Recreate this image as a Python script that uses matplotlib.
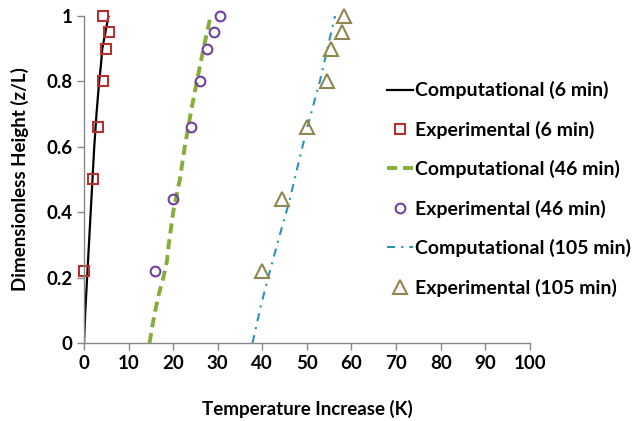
import matplotlib
matplotlib.use("Agg")
import matplotlib.pyplot as plt

plt.rcParams['font.family'] = ['Lato', 'DejaVu Sans']
plt.rcParams['font.weight'] = 'bold'

# Computational profiles (height vs temperature increase)
comp6_h = [0.0, 0.1, 0.2, 0.3, 0.4, 0.5, 0.6, 0.7, 0.8, 0.85, 0.9, 0.95, 1.0]
comp6_t = [0.0, 0.3, 0.7, 1.1, 1.5, 1.9, 2.3, 2.8, 3.4, 3.8, 4.1, 4.8, 5.5]

comp46_h = [0.0, 0.05, 0.1, 0.15, 0.2, 0.25, 0.3, 0.4, 0.5, 0.6, 0.7, 0.8, 0.9, 0.95, 1.0]
comp46_t = [14.7, 15.3, 16.0, 16.8, 17.8, 18.6, 19.0, 20.0, 21.5, 22.6, 23.9, 25.3, 26.8, 27.6, 28.4]

comp105_h = [0.0, 0.11, 0.2, 0.33, 0.43, 0.55, 0.65, 0.8, 0.9, 1.0]
comp105_t = [37.8, 39.6, 41.3, 43.9, 46.0, 48.1, 49.9, 52.9, 54.6, 56.3]

# Experimental points
exp6_h = [0.22, 0.5, 0.66, 0.8, 0.9, 0.95, 1.0]
exp6_t = [0.0, 2.0, 3.2, 4.3, 5.0, 5.5, 4.3]
exp46_h = [0.22, 0.44, 0.66, 0.8, 0.9, 0.95, 1.0]
exp46_t = [16.0, 19.9, 23.9, 26.1, 27.5, 29.2, 30.5]
exp105_h = [0.22, 0.44, 0.66, 0.8, 0.9, 0.95, 1.0]
exp105_t = [39.9, 44.5, 50.0, 54.5, 55.5, 57.8, 58.3]

x_ticks = [0, 10, 20, 30, 40, 50, 60, 70, 80, 90, 100]
y_ticks = [0, 0.2, 0.4, 0.6, 0.8, 1.0]
y_tick_labels = ['0', '0.2', '0.4', '0.6', '0.8', '1']

FS = 13.5

fig = plt.figure(figsize=(6.33, 4.21), dpi=100)
ax = fig.add_axes([0.1327, 0.1853, 0.7043, 0.7767])

ax.plot(comp6_t, comp6_h, color='black', lw=1.6, label='Computational (6 min)')
ax.plot(exp6_t, exp6_h, ls='none', marker='s', ms=6.5, mfc='none', mec='#b8312f',
        mew=1.5, clip_on=False, label='Experimental (6 min)')
ax.plot(comp46_t, comp46_h, color='#86ad3a', lw=2.8, dashes=(2.6, 1.5),
        label='Computational (46 min)')
ax.plot(exp46_t, exp46_h, ls='none', marker='o', ms=7, mfc='none', mec='#7040a0',
        mew=1.5, clip_on=False, label='Experimental (46 min)')
ax.plot(comp105_t, comp105_h, color='#2a93b8', lw=1.5, dashes=(3.9, 2.9, 1, 2.9),
        label='Computational (105 min)')
ax.plot(exp105_t, exp105_h, ls='none', marker='^', ms=10, mfc='none', mec='#8f8650',
        mew=1.5, clip_on=False, label='Experimental (105 min)')

ax.set_xlim(0, 100)
ax.set_ylim(0, 1)
ax.set_xticks(x_ticks)
ax.set_xticklabels([str(v) for v in x_ticks])
ax.set_yticks(y_ticks)
ax.set_yticklabels(y_tick_labels)
ax.tick_params(axis='both', labelsize=FS, colors='#888888', labelcolor='black',
               length=5, width=1, direction='out')
for side in ['top', 'right']:
    ax.spines[side].set_visible(False)
for side in ['left', 'bottom']:
    ax.spines[side].set_color('#888888')
    ax.spines[side].set_linewidth(1)
for lbl in ax.get_xticklabels() + ax.get_yticklabels():
    lbl.set_fontweight('bold')

ax.set_xlabel('Temperature Increase (K)', fontsize=FS, fontweight='bold', labelpad=20)
ax.set_ylabel('Dimensionless Height (z/L)', fontsize=FS, fontweight='bold', labelpad=12)

leg = ax.legend(loc='center left', bbox_to_anchor=(0.596, 0.551),
                bbox_transform=fig.transFigure, frameon=False, fontsize=14,
                numpoints=1, handlelength=1.34, handletextpad=0.1,
                labelspacing=1.1, borderpad=0)
for t in leg.get_texts():
    t.set_fontweight('bold')

fig.savefig('out.png', dpi=100)
